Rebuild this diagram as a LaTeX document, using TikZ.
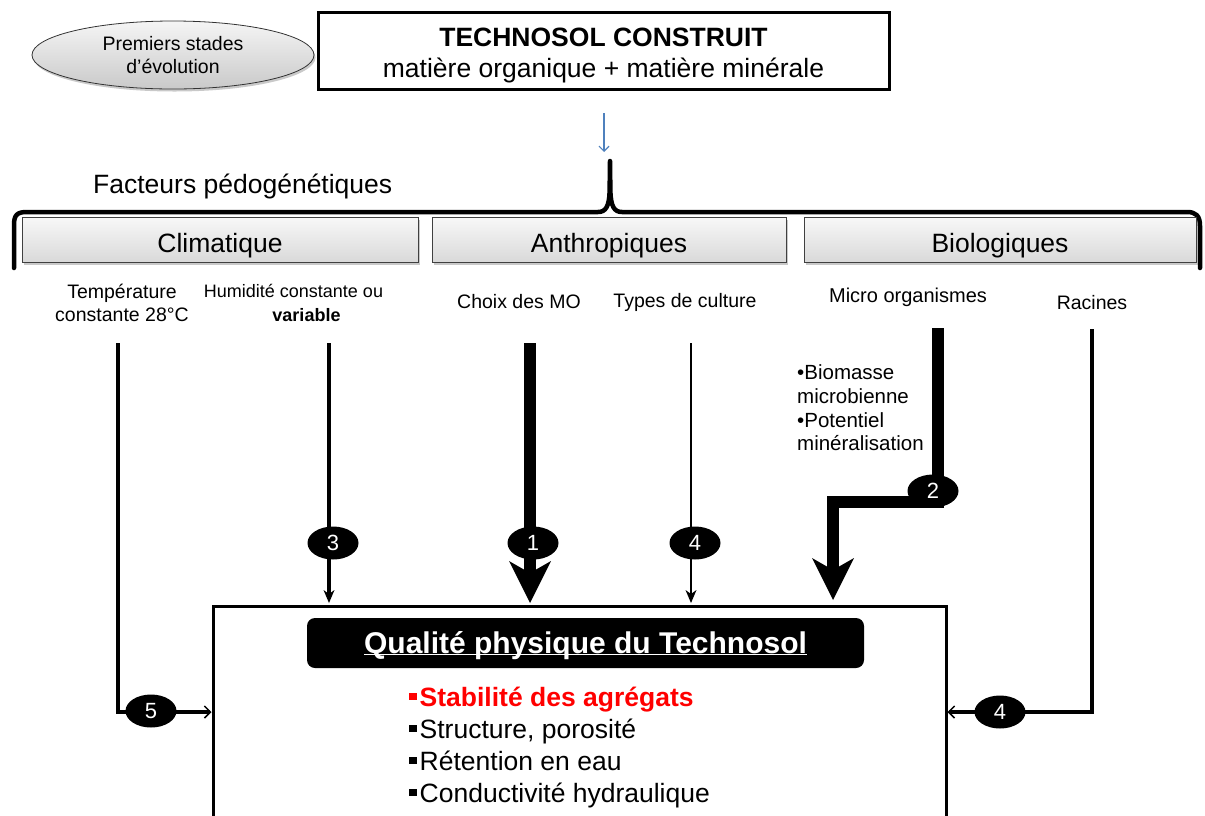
\documentclass[tikz,border=0pt]{standalone}
\usepackage{fontspec}
\setmainfont{Liberation Sans}
\usetikzlibrary{shapes.geometric,arrows.meta,shadows}
\definecolor{pblue}{RGB}{79,129,189}
\newcommand{\sqb}{\raisebox{6pt}{\rule{7.5pt}{7pt}}\hspace{3pt}}
\begin{document}
\begin{tikzpicture}[x=1pt,y=-1pt,
 lbl/.style={font=\fontsize{19.5pt}{23.5pt}\selectfont, align=center, inner sep=0pt},
 numb/.style={ellipse, fill=black, text=white, minimum width=51pt, minimum height=33pt, inner sep=0pt, font=\fontsize{22pt}{22pt}\selectfont},
 gbox/.style={draw=black!75, line width=0.8pt, top color=gray!6, bottom color=gray!30, minimum height=45pt, inner sep=0pt, text height=24pt, text depth=0pt, font=\fontsize{26.5pt}{26.5pt}\selectfont, drop shadow={shadow xshift=1.5pt, shadow yshift=-2.5pt, opacity=0.35, fill=black!60}},
 thinarr/.style={-{Stealth[length=13pt,width=11pt,inset=4pt,line width=0pt]}},
 thickarr/.style={line width=12pt, line join=miter, -{Stealth[length=42pt,width=42pt,inset=12pt,line width=0pt]}},
 sidearr/.style={line width=3.5pt, -{Straight Barb[length=6pt,width=12pt,line width=1.5pt]}},
 item/.style={anchor=west, inner sep=0pt, text height=19pt, text depth=5pt, font=\fontsize{26.5pt}{26.5pt}\selectfont},
]
\clip (0,0) rectangle (1205,815);
\fill[white] (0,0) rectangle (1205,815);

% top
\node[ellipse, draw=black!80, line width=0.8pt, top color=gray!8, bottom color=gray!42, minimum width=282pt, minimum height=68pt, inner sep=0pt, align=center, font=\fontsize{19.5pt}{23pt}\selectfont, drop shadow={shadow xshift=1.5pt, shadow yshift=-2.5pt, opacity=0.35, fill=black!60}] (prem) at (173,55) {Premiers stades\\d’évolution};
\node[draw, line width=3pt, minimum width=571pt, minimum height=77pt, inner sep=0pt] (tech) at (603.5,50.5) {};
\node[inner sep=0pt, align=center, font=\fontsize{26.5pt}{31pt}\selectfont] (techtxt) at (603.5,55) {\textbf{TECHNOSOL CONSTRUIT}\\matière organique + matière minérale};
\coordinate (bs) at (604,113);
\coordinate (be) at (604,152);
\draw[pblue, line width=1.2pt, -{Straight Barb[length=5pt,width=10pt]}] (bs) -- (be);

\node[anchor=west, inner sep=0pt, font=\fontsize{26.5pt}{26.5pt}\selectfont] (fact) at (93,186) {Facteurs pédogénétiques};

% brace
\draw[line width=4.5pt, line cap=round, line join=round] (14,268) -- (14,225)
  .. controls (14,215) and (17,212) .. (27,212) -- (598,212)
  .. controls (606,212) and (609,206) .. (609.6,192) -- (610,161)
  -- (610.4,192) .. controls (611,206) and (614,212) .. (622,212) -- (1187,212)
  .. controls (1196,212) and (1200,216) .. (1200,226) -- (1200,268);

% category boxes
\node[gbox, minimum width=396pt] (clim) at (220,240) {Climatique};
\node[gbox, minimum width=354pt] (anth) at (609,240) {Anthropiques};
\node[gbox, minimum width=392pt] (bio) at (1000,240) {Biologiques};

% labels
\node[lbl] (temp) at (122,303) {Température\\constante 28°C};
\node[lbl, font=\fontsize{18pt}{23.5pt}\selectfont] (hum) at (300,303) {\hspace*{-13pt}Humidité constante ou\\\hspace*{13pt}\textbf{variable}};
\node[lbl] (choix) at (519,302) {Choix des MO};
\node[lbl] (types) at (685,302) {Types de culture};
\node[lbl, font=\fontsize{20pt}{23.5pt}\selectfont] (micro) at (908,297) {Micro organismes};
\node[lbl] (rac) at (1092,303) {Racines};
\node[lbl, align=left, anchor=west, font=\fontsize{20.5pt}{23.7pt}\selectfont] (biom) at (797,408) {•Biomasse\\microbienne\\•Potentiel\\minéralisation};

% main box
\node[draw, line width=3pt, minimum width=733pt, minimum height=320pt, inner sep=0pt] (qbox) at (579.5,766) {};
\node[fill=black, rounded corners=8pt, minimum width=557pt, minimum height=50pt, inner sep=0pt, text height=20pt, text depth=0pt, text=white, font=\fontsize{30pt}{30pt}\selectfont\bfseries] (head) at (585.5,643) {\underline{\smash{Qualité physique du Technosol}}};
\node[item, text=red, font=\fontsize{26.5pt}{26.5pt}\selectfont\bfseries] (i1) at (409,699) {\sqb Stabilité des agrégats};
\node[item] (i2) at (409,731) {\sqb Structure, porosité};
\node[item] (i3) at (409,763) {\sqb Rétention en eau};
\node[item] (i4) at (409,795) {\sqb Conductivité hydraulique};

% connectors
\coordinate (t0) at (118,343);
\coordinate (t1) at (118,712);
\draw[sidearr] (t0) -- (t1) -- (t1 -| qbox.west);
\coordinate (h0) at (329,343);
\draw[thinarr, line width=4pt] (h0) -- (h0 |- 0,603);
\coordinate (c0) at (530,343);
\draw[thickarr] (c0) -- (c0 |- 0,603);
\coordinate (y0) at (691,343);
\draw[thinarr, line width=2.5pt] (y0) -- (y0 |- 0,603);
\coordinate (m0) at (938,328);
\coordinate (m1) at (938,502);
\coordinate (m2) at (833,502);
\draw[thickarr] (m0) -- (m1) -- (m2) -- (m2 |- 0,600);
\coordinate (r0) at (1092,329);
\coordinate (r1) at (1092,712);
\draw[sidearr] (r0) -- (r1) -- (r1 -| qbox.east);

% numbers
\node[numb] (n3) at (333,543) {3};
\node[numb] (n1) at (533,543) {1};
\node[numb] (n4) at (695,543) {4};
\node[numb] (n2) at (933,491) {2};
\node[numb] (n5) at (151,711) {5};
\node[numb] (n4b) at (1000,712) {4};
\end{tikzpicture}
\end{document}
